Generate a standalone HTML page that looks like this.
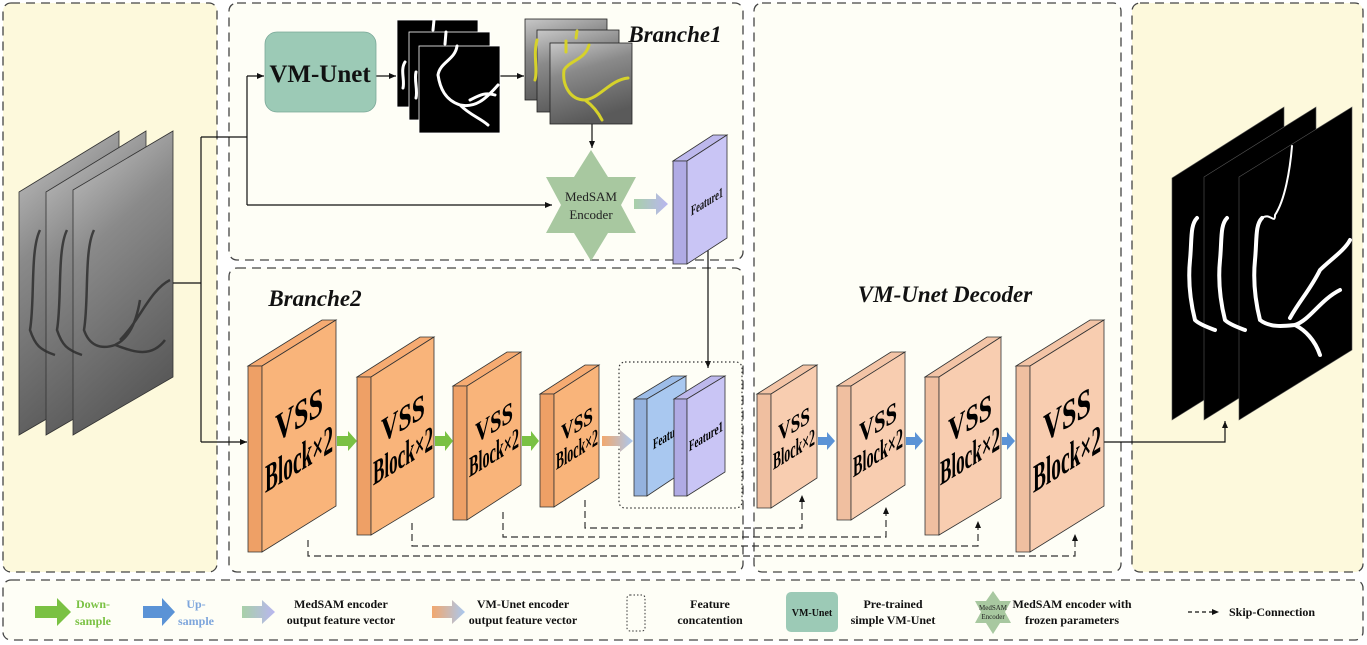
<!DOCTYPE html>
<html><head><meta charset="utf-8"><style>
html,body{margin:0;padding:0;background:#fff;}
svg{display:block;font-family:"Liberation Serif",serif;}
</style></head><body>
<svg width="1367" height="645" viewBox="0 0 1367 645" xmlns="http://www.w3.org/2000/svg">
<defs>
<marker id="ah" markerWidth="8" markerHeight="8" refX="7" refY="4" orient="auto" markerUnits="userSpaceOnUse"><path d="M0,1 L7,4 L0,7 z" fill="#111"/></marker>
<linearGradient id="gMed" x1="0" x2="1"><stop offset="0" stop-color="#a8d0a8"/><stop offset="1" stop-color="#b9b6f0"/></linearGradient>
<linearGradient id="gVm" x1="0" x2="1"><stop offset="0" stop-color="#f2a86e"/><stop offset="1" stop-color="#a9c8f0"/></linearGradient>
<linearGradient id="angio" x1="0" y1="0" x2="0.3" y2="1"><stop offset="0" stop-color="#c8c8c8"/><stop offset="0.4" stop-color="#8a8a8a"/><stop offset="1" stop-color="#5a5a5a"/></linearGradient>
</defs>

<rect x="3" y="3" width="214" height="569" rx="8" fill="#fdf9dc" stroke="#444" stroke-width="1.3" stroke-dasharray="9,6"/>
<rect x="229" y="3" width="514" height="257" rx="8" fill="#fefef6" stroke="#444" stroke-width="1.3" stroke-dasharray="9,6"/>
<rect x="229" y="268" width="514" height="304" rx="8" fill="#fefef6" stroke="#444" stroke-width="1.3" stroke-dasharray="9,6"/>
<rect x="754" y="3" width="367" height="569" rx="8" fill="#fefef6" stroke="#444" stroke-width="1.3" stroke-dasharray="9,6"/>
<rect x="1132" y="3" width="231" height="569" rx="8" fill="#fdf9dc" stroke="#444" stroke-width="1.3" stroke-dasharray="9,6"/>
<rect x="3" y="580" width="1360" height="60" rx="8" fill="#fefef6" stroke="#444" stroke-width="1.3" stroke-dasharray="9,6"/>

<g stroke="#333" stroke-width="0.8">
<polygon points="19,192 119,131 119,377 19,435" fill="url(#angio)"/>
<polygon points="46,192 146,131 146,377 46,435" fill="url(#angio)"/>
<polygon points="73,190 173,131 173,377 73,435" fill="url(#angio)"/>
</g>
<g fill="none" stroke="#2a2a2a" stroke-width="2.5" opacity="0.8">
<path d="M40,230 C30,250 35,300 30,330 C35,345 40,350 55,355"/>
<path d="M67,230 C57,250 62,300 57,330 C62,345 67,350 82,355"/>
<path d="M94,230 C84,250 89,300 84,330 C89,345 100,350 115,345 C125,340 135,330 140,300 M115,345 C130,350 150,360 165,340 M120,340 C140,320 150,290 170,280"/>
</g>

<g stroke="#111" stroke-width="1.2" fill="none">
<line x1="173" y1="283" x2="201" y2="283"/>
<line x1="201" y1="137" x2="201" y2="442"/>
<line x1="201" y1="137" x2="247" y2="137"/>
<line x1="247" y1="76" x2="247" y2="205"/>
<line x1="247" y1="76" x2="264" y2="76" marker-end="url(#ah)"/>
<line x1="247" y1="205" x2="552" y2="205" marker-end="url(#ah)"/>
<line x1="201" y1="442" x2="247" y2="442" marker-end="url(#ah)"/>
<line x1="376" y1="76" x2="396" y2="76" marker-end="url(#ah)"/>
<line x1="500" y1="76" x2="524" y2="76" marker-end="url(#ah)"/>
<line x1="592" y1="124" x2="592" y2="148" marker-end="url(#ah)"/>
<line x1="708" y1="238" x2="708" y2="368" marker-end="url(#ah)"/>
<polyline points="1104,442 1225,442 1225,421" marker-end="url(#ah)"/>
</g>

<rect x="265" y="32" width="111" height="80" rx="12" fill="#9ccab6" stroke="#7aa898" stroke-width="0.8"/>
<text x="320" y="82" font-size="25" font-weight="bold" text-anchor="middle" fill="#111">VM-Unet</text>

<g stroke="#fff" stroke-width="0.8">
<rect x="397" y="20" width="81" height="87" fill="#000"/>
<rect x="409" y="32" width="81" height="88" fill="#000"/>
<rect x="419" y="46" width="81" height="87" fill="#000"/>
</g>
<g fill="none" stroke="#fff" stroke-linecap="round">
<path d="M434,20 L433,30 M446,32 L445,44 M457,46 C455,60 440,62 438,75 C440,88 445,100 460,105 C475,108 485,100 498,85 M460,105 C470,115 480,118 488,125 M470,100 C480,95 485,92 495,95" stroke-width="3"/>
<path d="M405,62 C400,70 405,80 403,88 M416,72 C414,80 418,90 416,98" stroke-width="3"/>
</g>

<g stroke="#222" stroke-width="0.8">
<rect x="525" y="19" width="82" height="81" fill="url(#angio)"/>
<rect x="537" y="30" width="82" height="82" fill="url(#angio)"/>
<rect x="550" y="43" width="82" height="81" fill="url(#angio)"/>
</g>
<g fill="none" stroke="#d6d22a" stroke-width="3" stroke-linecap="round">
<path d="M566,41 L566,52 M577,31 L576,38 M537,40 C533,55 538,70 535,80"/>
<path d="M589,45 C585,60 570,60 564,70 C562,85 570,100 585,100 C600,98 610,80 628,78 M585,100 C592,105 598,112 602,120"/>
</g>
<text x="675" y="42" font-size="23" font-weight="bold" font-style="italic" text-anchor="middle" fill="#111">Branche1</text>

<polygon points="591,150 608,177 636,177 621,205 636,233 608,233 591,261 574,233 546,233 561,205 546,177 574,177" fill="#a8c8a0"/>
<text x="591" y="201" font-size="13" text-anchor="middle" fill="#222">MedSAM</text>
<text x="591" y="219" font-size="13" text-anchor="middle" fill="#222">Encoder</text>
<polygon points="634,199 656,199 656,193 668,204 656,215 656,209 634,209" fill="url(#gMed)"/>

<polygon points="673,161 713,135 727,135 687,161" fill="#bdb8ec" stroke="#333" stroke-width="0.8"/>
<polygon points="673,161 687,161 687,264 673,264" fill="#b0abe4" stroke="#333" stroke-width="0.8"/>
<polygon points="687,161 727,135 727,238 687,264" fill="#c9c5f5" stroke="#333" stroke-width="0.8"/>
<text transform="translate(707,201) matrix(1,-0.62,0,1,0,0)" x="-16" y="5" font-size="14" font-weight="bold" textLength="32" lengthAdjust="spacingAndGlyphs" fill="#111">Feature1</text>

<text x="315" y="306" font-size="23" font-weight="bold" font-style="italic" text-anchor="middle" fill="#111">Branche2</text>
<text x="945" y="302" font-size="23" font-weight="bold" font-style="italic" text-anchor="middle" fill="#111">VM-Unet Decoder</text>

<rect x="619" y="362" width="123" height="146" rx="6" fill="none" stroke="#333" stroke-width="1.2" stroke-dasharray="1.5,2.5"/>

<g stroke="#333" stroke-width="0.8">
<polygon points="248,366 322,320 336,320 262,366" fill="#f6ab72"/>
<polygon points="248,366 262,366 262,552 248,552" fill="#eea066"/>
<polygon points="262,366 336,320 336,506 262,552" fill="#f9b47a"/>
<polygon points="357,377 420,337 434,337 371,377" fill="#f6ab72"/>
<polygon points="357,377 371,377 371,535 357,535" fill="#eea066"/>
<polygon points="371,377 434,337 434,497 371,535" fill="#f9b47a"/>
<polygon points="453,386 507,352 521,352 467,386" fill="#f6ab72"/>
<polygon points="453,386 467,386 467,520 453,520" fill="#eea066"/>
<polygon points="467,386 521,352 521,485 467,520" fill="#f9b47a"/>
<polygon points="540,394 585,365 599,365 554,394" fill="#f6ab72"/>
<polygon points="540,394 554,394 554,507 540,507" fill="#eea066"/>
<polygon points="554,394 599,365 599,478 554,507" fill="#f9b47a"/>
<polygon points="634,399 672,376 686,376 647,399" fill="#9dbde8"/>
<polygon points="634,399 647,399 647,496 634,496" fill="#94b2de"/>
<polygon points="647,399 686,376 686,470 647,496" fill="#a9c8f0"/>
</g>
<text transform="translate(667,436) matrix(1,-0.62,0,1,0,0)" x="-14" y="5" font-size="15" font-weight="bold" textLength="34" lengthAdjust="spacingAndGlyphs" fill="#000">Feature1</text>
<g stroke="#333" stroke-width="0.8">
<polygon points="674,399 711,376 725,376 687,399" fill="#bdb8ec"/>
<polygon points="674,399 687,399 687,496 674,496" fill="#b0abe4"/>
<polygon points="687,399 725,376 725,472 687,496" fill="#c9c5f5"/>
</g>
<g font-weight="bold" fill="#000">
<g transform="translate(299,436) matrix(1,-0.62,0,1,0,0)" font-size="40"><text x="-24" y="-8" textLength="48" lengthAdjust="spacingAndGlyphs">VSS</text><text x="-34" y="36" textLength="68" lengthAdjust="spacingAndGlyphs">Block×2</text></g>
<g transform="translate(403,436) matrix(1,-0.62,0,1,0,0)" font-size="35"><text x="-22" y="-6" textLength="44" lengthAdjust="spacingAndGlyphs">VSS</text><text x="-30" y="31" textLength="60" lengthAdjust="spacingAndGlyphs">Block×2</text></g>
<g transform="translate(494,436) matrix(1,-0.62,0,1,0,0)" font-size="29"><text x="-19" y="-4" textLength="38" lengthAdjust="spacingAndGlyphs">VSS</text><text x="-25" y="26" textLength="50" lengthAdjust="spacingAndGlyphs">Block×2</text></g>
<g transform="translate(577,436) matrix(1,-0.62,0,1,0,0)" font-size="24"><text x="-16" y="-4" textLength="32" lengthAdjust="spacingAndGlyphs">VSS</text><text x="-21" y="21" textLength="42" lengthAdjust="spacingAndGlyphs">Block×2</text></g>
<text transform="translate(706,436) matrix(1,-0.62,0,1,0,0)" x="-17" y="5" font-size="15" textLength="34" lengthAdjust="spacingAndGlyphs">Feature1</text>
</g>
<g fill="#7ac143">
<polygon points="337,436 348,436 348,431 357,441 348,451 348,446 337,446"/>
<polygon points="435,436 445,436 445,431 453,441 445,451 445,446 435,446"/>
<polygon points="522,436 531,436 531,431 539,441 531,451 531,446 522,446"/>
</g>
<polygon points="602,436 620,436 620,430 633,441 620,452 620,446 602,446" fill="url(#gVm)"/>

<g stroke="#333" stroke-width="0.8">
<polygon points="757,394 803,365 817,365 771,394" fill="#f3c4a6"/>
<polygon points="757,394 771,394 771,508 757,508" fill="#f0bfa0"/>
<polygon points="771,394 817,365 817,478 771,508" fill="#f8cdb0"/>
<polygon points="837,386 891,352 905,352 851,386" fill="#f3c4a6"/>
<polygon points="837,386 851,386 851,520 837,520" fill="#f0bfa0"/>
<polygon points="851,386 905,352 905,485 851,520" fill="#f8cdb0"/>
<polygon points="925,377 987,337 1001,337 939,377" fill="#f3c4a6"/>
<polygon points="925,377 939,377 939,535 925,535" fill="#f0bfa0"/>
<polygon points="939,377 1001,337 1001,498 939,535" fill="#f8cdb0"/>
<polygon points="1016,366 1090,320 1104,320 1030,366" fill="#f3c4a6"/>
<polygon points="1016,366 1030,366 1030,552 1016,552" fill="#f0bfa0"/>
<polygon points="1030,366 1104,320 1104,506 1030,552" fill="#f8cdb0"/>
</g>
<g font-weight="bold" fill="#000">
<g transform="translate(794,436) matrix(1,-0.62,0,1,0,0)" font-size="24"><text x="-16" y="-4" textLength="32" lengthAdjust="spacingAndGlyphs">VSS</text><text x="-21" y="21" textLength="42" lengthAdjust="spacingAndGlyphs">Block×2</text></g>
<g transform="translate(878,436) matrix(1,-0.62,0,1,0,0)" font-size="29"><text x="-19" y="-4" textLength="38" lengthAdjust="spacingAndGlyphs">VSS</text><text x="-25" y="26" textLength="50" lengthAdjust="spacingAndGlyphs">Block×2</text></g>
<g transform="translate(970,436) matrix(1,-0.62,0,1,0,0)" font-size="35"><text x="-22" y="-6" textLength="44" lengthAdjust="spacingAndGlyphs">VSS</text><text x="-30" y="31" textLength="60" lengthAdjust="spacingAndGlyphs">Block×2</text></g>
<g transform="translate(1067,436) matrix(1,-0.62,0,1,0,0)" font-size="40"><text x="-24" y="-8" textLength="48" lengthAdjust="spacingAndGlyphs">VSS</text><text x="-34" y="36" textLength="68" lengthAdjust="spacingAndGlyphs">Block×2</text></g>
</g>
<g fill="#5b93d6">
<polygon points="818,437 827,437 827,432 835,441 827,450 827,445 818,445"/>
<polygon points="906,437 915,437 915,432 923,441 915,450 915,445 906,445"/>
<polygon points="1002,437 1007,437 1007,432 1015,441 1007,450 1007,445 1002,445"/>
</g>

<g fill="none" stroke="#333" stroke-width="1.2" stroke-dasharray="7,4">
<polyline points="585,500 585,528 802,528 802,500"/>
<polyline points="503,512 503,537 886,537 886,512"/>
<polyline points="412,523 412,546 978,546 978,527"/>
<polyline points="308,540 308,556 1075,556 1075,540"/>
</g>
<g fill="#111">
<polygon points="802,495 799,502 805,502"/>
<polygon points="886,507 883,514 889,514"/>
<polygon points="978,521 975,528 981,528"/>
<polygon points="1075,534 1072,541 1078,541"/>
</g>

<g stroke="#555" stroke-width="0.6">
<polygon points="1172,178 1284,107 1284,350 1172,420" fill="#000"/>
<polygon points="1204,177 1316,107 1316,350 1204,420" fill="#000"/>
<polygon points="1239,177 1352,107 1352,350 1239,420" fill="#000"/>
</g>
<g fill="none" stroke="#fff" stroke-width="4" stroke-linecap="round">
<path d="M1197,218 C1190,225 1192,240 1190,260 C1188,280 1190,300 1195,320 C1200,325 1210,328 1215,330"/>
<path d="M1227,218 C1220,225 1222,240 1220,260 C1218,280 1220,300 1225,320 C1230,325 1240,328 1245,330"/>
<path d="M1262,218 C1255,225 1257,240 1255,260 C1253,280 1255,300 1260,320 C1270,328 1285,326 1295,325 C1310,320 1320,300 1340,290 M1295,325 C1305,330 1315,340 1320,355 M1290,318 C1300,300 1310,290 1320,270 C1330,260 1345,250 1350,240"/>
<path d="M1262,218 C1270,212 1275,225 1275,215 C1285,200 1290,170 1292,146" stroke-width="2"/>
</g>

<g font-size="12" font-weight="bold" text-anchor="middle">
<polygon points="35,606 57,606 57,598 71,612 57,626 57,618 35,618" fill="#7ac143"/>
<text x="93" y="608" fill="#7ac143">Down-</text><text x="93" y="625" fill="#7ac143">sample</text>
<polygon points="143,606 162,606 162,598 175,612 162,626 162,618 143,618" fill="#5b93d6"/>
<text x="196" y="608" fill="#7ea6dc">Up-</text><text x="196" y="625" fill="#7ea6dc">sample</text>
<polygon points="242,606 262,606 262,600 275,612 262,624 262,618 242,618" fill="url(#gMed)"/>
<text x="341" y="608" fill="#111">MedSAM encoder</text><text x="341" y="624" fill="#111">output feature vector</text>
<polygon points="432,606 452,606 452,600 465,612 452,624 452,618 432,618" fill="url(#gVm)"/>
<text x="523" y="608" fill="#111">VM-Unet encoder</text><text x="523" y="624" fill="#111">output feature vector</text>
<rect x="627" y="595" width="18" height="36" rx="3" fill="none" stroke="#333" stroke-dasharray="1.5,2"/>
<text x="710" y="608" fill="#111">Feature</text><text x="710" y="624" fill="#111">concatention</text>
<rect x="786" y="592" width="52" height="40" rx="5" fill="#9ccab6"/>
<text x="812" y="616" font-size="10" fill="#111">VM-Unet</text>
<text x="893" y="608" fill="#111">Pre-trained</text><text x="893" y="624" fill="#111">simple VM-Unet</text>
<polygon points="993,591 1000,601 1011,601 1005,612 1011,623 1000,623 993,634 986,623 975,623 981,612 975,601 986,601" fill="#a8c8a0"/>
<text x="993" y="610" font-size="7" font-weight="normal" fill="#222">MedSAM</text><text x="993" y="619" font-size="7" font-weight="normal" fill="#222">Encoder</text>
<text x="1072" y="608" fill="#111">MedSAM encoder with</text><text x="1072" y="624" fill="#111">frozen parameters</text>
<line x1="1188" y1="612" x2="1214" y2="612" stroke="#111" stroke-width="1.2" stroke-dasharray="4,3"/>
<polygon points="1219,612 1212,609 1212,615" fill="#111"/>
<text x="1272" y="616" fill="#111">Skip-Connection</text>
</g>
</svg>
</body></html>
